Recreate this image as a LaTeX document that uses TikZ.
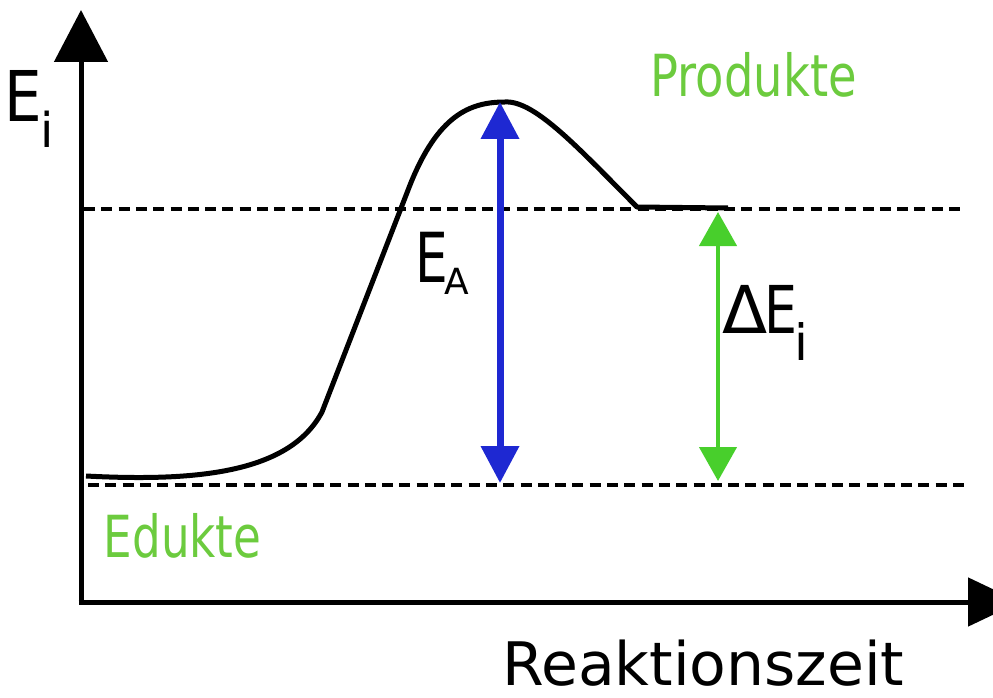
\documentclass[tikz,border=0pt]{standalone}
\usepackage{fontspec}
\setmainfont{DejaVu Sans}
\usetikzlibrary{arrows.meta}
\definecolor{eablue}{HTML}{1E28D2}
\definecolor{dgreen}{HTML}{48CF2C}
\definecolor{txtgreen}{HTML}{6CCB3E}
\begin{document}
\begin{tikzpicture}[x=1pt,y=-1pt,
  axisline/.style={line width=5pt,draw=black},
  levelline/.style={line width=4pt,dash pattern=on 11pt off 6.3pt},
  curveline/.style={line width=5pt,line join=round},
  lbl/.style={inner sep=0pt,anchor=base west},
  ]
\useasboundingbox (0,0) rectangle (993,698);
\clip (0,0) rectangle (993,698);
% coordinates
\coordinate (O) at (81,602);
\coordinate (ytip) at (81,10);
\coordinate (xtip) at (1020,602);
\coordinate (t1) at (84,209);
\coordinate (t2) at (960,209);
\coordinate (b1) at (88,485);
\coordinate (b2) at (966,485);
\coordinate (c0) at (86,476);
\coordinate (c1) at (322,412);
\coordinate (c2) at (410,185);
\coordinate (peak) at (505,102);
\coordinate (c3) at (637,207);
\coordinate (c4) at (728,208);
\coordinate (eatop) at (500,102);
\coordinate (eabot) at (500,483);
\coordinate (detop) at (718,212);
\coordinate (debot) at (718,481);
% axes
\draw[axisline,-{Triangle[length=52pt,width=53pt]}] ([yshift=2.5pt]O) -- (ytip);
\draw[axisline,-{Triangle[length=52pt,width=48pt]}] ([xshift=-2.5pt]O) -- (xtip);
% levels
\draw[levelline] (t1) -- (t2);
\draw[levelline] (b1) -- (b2);
% curve
\draw[curveline] (c0) .. controls (200,482) and (290,472) .. (c1) -- (c2)
  .. controls (438,115) and (470,102) .. (peak)
  .. controls (535,100) and (580,150) .. (c3) -- (c4);
% arrows
\draw[eablue,line width=7pt,{Triangle[length=37pt,width=37pt]}-{Triangle[length=37pt,width=37pt]}] (eabot) -- (eatop);
\draw[dgreen,line width=4.5pt,{Triangle[length=34pt,width=37pt]}-{Triangle[length=34pt,width=37pt]}] (debot) -- (detop);
% labels
\node[lbl] (Ei) at (4,122) {\fontsize{70}{70}\selectfont\scalebox{0.85}[1]{E}\hspace{-1pt}\raisebox{-25pt}{\fontsize{48}{48}\selectfont i}};
\node[lbl] (EA) at (415,282) {\fontsize{69}{69}\selectfont\scalebox{0.75}[1]{E}\hspace{-3pt}\raisebox{-12pt}{\fontsize{36}{36}\selectfont A}};
\node[lbl] (dE) at (722,333) {\fontsize{66}{66}\selectfont Δ\hspace{-3pt}\scalebox{0.79}[1]{E}\hspace{-3pt}\raisebox{-27pt}{\fontsize{50}{50}\selectfont i}};
\node[lbl,text=txtgreen] (prod) at (650.5,97) {\scalebox{0.8}[1]{\fontsize{58}{58}\selectfont Produkte}};
\node[lbl,text=txtgreen] (edu) at (103.5,557) {\scalebox{0.78}[1]{\fontsize{58}{58}\selectfont Edukte}};
\node[lbl] (rz) at (502,685) {\fontsize{60}{60}\selectfont Reaktionszeit};
\end{tikzpicture}
\end{document}
